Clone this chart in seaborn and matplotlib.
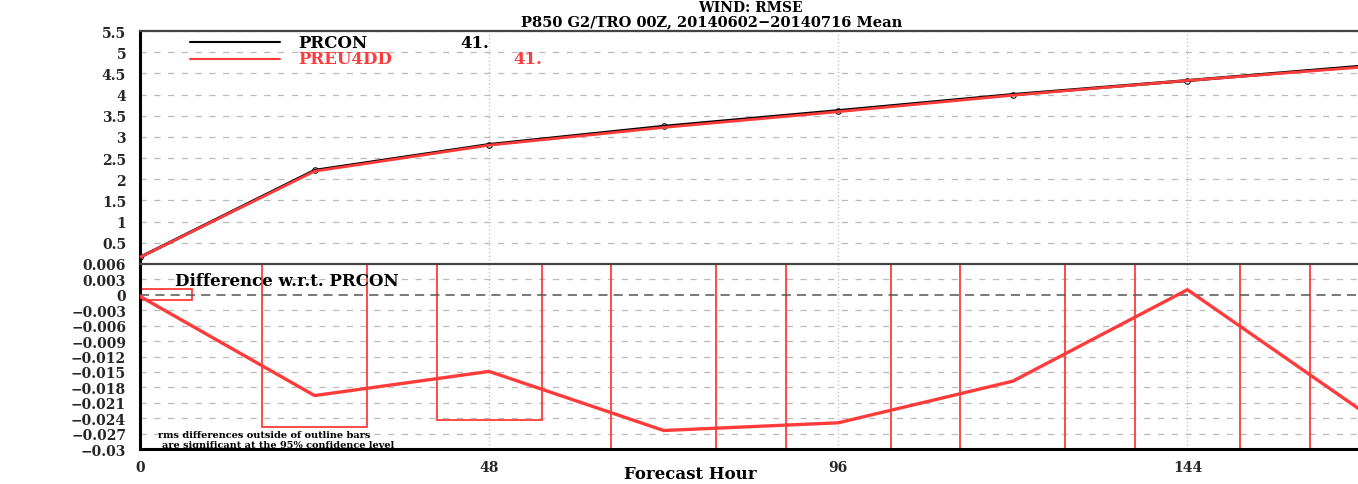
import numpy as np
import pandas as pd
import matplotlib
matplotlib.use("Agg")
import matplotlib.pyplot as plt
import seaborn as sns
from matplotlib.patches import Rectangle
from matplotlib.lines import Line2D
from matplotlib.ticker import FixedLocator, MultipleLocator

# ---------------- data ----------------
hours = [0, 24, 48, 72, 96, 120, 144, 168]
prcon = [0.16, 2.21, 2.82, 3.25, 3.62, 4.00, 4.33, 4.67]
diff = [-0.0003, -0.0196, -0.0149, -0.0264, -0.0249, -0.0168, 0.0010, -0.0226]
preu4dd = [p + d for p, d in zip(prcon, diff)]
ci_half = [0.0011, 0.0258, 0.0244, 0.034, 0.036, 0.038, 0.040, 0.042]
bar_halfwidth = 7.2

upper_ticks = [0, 0.5, 1, 1.5, 2, 2.5, 3, 3.5, 4, 4.5, 5, 5.5]
upper_labels = ["", "0.5", "1", "1.5", "2", "2.5", "3", "3.5", "4", "4.5", "5", "5.5"]
lower_ticks = [0.006, 0.003, 0, -0.003, -0.006, -0.009, -0.012, -0.015,
               -0.018, -0.021, -0.024, -0.027, -0.03]
lower_labels = ["0.006", "0.003", "0", "\u22120.003", "\u22120.006", "\u22120.009",
                "\u22120.012", "\u22120.015", "\u22120.018", "\u22120.021",
                "\u22120.024", "\u22120.027", "\u22120.03"]
x_ticks = [0, 48, 96, 144]
x_labels = ["0", "48", "96", "144"]

title1 = "WIND: RMSE"
title2 = "P850 G2/TRO 00Z, 20140602\u221220140716 Mean"
series_names = ["PRCON", "PREU4DD"]
series_counts = ["41.", "41."]

RED = "#ff3b3b"

df = pd.DataFrame({
    "hour": hours * 2,
    "rmse": prcon + preu4dd,
    "exp": [series_names[0]] * len(hours) + [series_names[1]] * len(hours),
})
df_diff = pd.DataFrame({"hour": hours, "diff": diff})

# ---------------- style ----------------
sns.set_style("white")
FONT = ["DejaVu Serif"]
plt.rcParams["font.family"] = FONT
plt.rcParams["font.weight"] = "bold"

W, H = 1358, 485
fig = plt.figure(figsize=(W / 100, H / 100), dpi=100)


def fx(x):
    return x / W


def fy(y):
    return 1 - y / H


left, right = 140, 1362
ax1 = fig.add_axes([fx(left), fy(265), fx(right - left), (265 - 32) / H])
ax2 = fig.add_axes([fx(left), fy(450), fx(right - left), (450 - 265) / H])

# ---------------- upper panel ----------------
sns.lineplot(data=df[df.exp == "PRCON"], x="hour", y="rmse", ax=ax1,
             color="black", lw=2.2, marker="o", markersize=4,
             markeredgecolor="black", markerfacecolor="none", legend=False, zorder=3)
sns.lineplot(data=df[df.exp == "PREU4DD"], x="hour", y="rmse", ax=ax1,
             color=RED, lw=2.0, legend=False, zorder=4)
ax1.set_xlim(0, 168)
ax1.set_ylim(0, 5.5)
ax1.yaxis.set_major_locator(FixedLocator(upper_ticks))
ax1.set_yticklabels(upper_labels)
ax1.yaxis.set_minor_locator(MultipleLocator(0.1))
ax1.set_xticks(x_ticks)
ax1.set_xticklabels([])
for yv in upper_ticks[1:]:
    ax1.axhline(yv, color="#bbbbbb", lw=0.9, ls=(0, (5, 6)), zorder=1)
for xv in x_ticks[1:]:
    ax1.axvline(xv, color="#bbbbbb", lw=0.9, ls=(0, (1, 2)), zorder=1)

# ---------------- lower panel ----------------
for h, c in zip(hours, ci_half):
    ax2.add_patch(Rectangle((h - bar_halfwidth, -c), 2 * bar_halfwidth, 2 * c,
                            fill=False, edgecolor=RED, lw=1.3, zorder=2))
sns.lineplot(data=df_diff, x="hour", y="diff", ax=ax2, color=RED, lw=2.4,
             legend=False, zorder=4)
ax2.set_xlim(0, 168)
ax2.set_ylim(-0.03, 0.006)
ax2.yaxis.set_major_locator(FixedLocator(lower_ticks))
ax2.set_yticklabels(lower_labels)
ax2.yaxis.set_minor_locator(MultipleLocator(0.001))
ax2.set_xticks(x_ticks)
ax2.set_xticklabels(x_labels)
ax2.xaxis.set_minor_locator(MultipleLocator(12))
for yv in lower_ticks[1:]:
    if yv == 0:
        ax2.axhline(0, color="#555555", lw=1.1, ls=(0, (6, 4)), zorder=3)
    else:
        ax2.axhline(yv, color="#bbbbbb", lw=0.9, ls=(0, (5, 6)), zorder=1)
for xv in x_ticks[1:]:
    ax2.axvline(xv, color="#bbbbbb", lw=0.9, ls=(0, (1, 2)), zorder=1)

for ax in (ax1, ax2):
    ax.set_xlabel("")
    ax.set_ylabel("")
    ax.spines["right"].set_visible(False)
    ax.spines["left"].set_color("black")
    ax.spines["left"].set_linewidth(2.2)
    ax.spines["bottom"].set_color("#333333")
    ax.spines["bottom"].set_linewidth(1.6)
    ax.spines["top"].set_color("#444444")
    ax.spines["top"].set_linewidth(1.6)
    ax.tick_params(axis="y", which="major", direction="out", length=7, width=1.5,
                   color="black", labelsize=10, pad=3)
    ax.tick_params(axis="y", which="minor", direction="inout", length=3, width=1.0,
                   color="black")
    ax.tick_params(axis="x", which="major", direction="out", length=6, width=1.5,
                   color="black", labelsize=10, pad=2)
    ax.tick_params(axis="x", which="minor", direction="out", length=3, width=1.0,
                   color="black")
    for lab in ax.get_yticklabels() + ax.get_xticklabels():
        lab.set_fontweight("bold")
    ax.set_facecolor("white")
ax2.spines["bottom"].set_color("black")
ax2.spines["bottom"].set_linewidth(2.2)
ax1.spines["bottom"].set_visible(False)

# ---------------- texts ----------------
fig.text(fx(750), fy(8), title1, ha="center", va="center", fontsize=10,
         fontweight="bold", color="black")
fig.text(fx(712), fy(22), title2, ha="center", va="center", fontsize=10.5,
         fontweight="bold", color="black")

fig.add_artist(Line2D([fx(190), fx(280)], [fy(43), fy(43)], color="black", lw=1.5))
fig.add_artist(Line2D([fx(190), fx(280)], [fy(60), fy(60)], color=RED, lw=1.5))
fig.text(fx(298), fy(43), series_names[0], ha="left", va="center", fontsize=12,
         fontweight="bold", color="black")
fig.text(fx(460), fy(43), series_counts[0], ha="left", va="center", fontsize=12,
         fontweight="bold", color="black")
fig.text(fx(298), fy(60), series_names[1], ha="left", va="center", fontsize=12,
         fontweight="bold", color=RED)
fig.text(fx(513), fy(60), series_counts[1], ha="left", va="center", fontsize=12,
         fontweight="bold", color=RED)

fig.text(fx(175), fy(281), "Difference w.r.t. PRCON", ha="left", va="center",
         fontsize=12, fontweight="bold", color="black")
fig.text(fx(158), fy(436), "rms differences outside of outline bars", ha="left",
         va="center", fontsize=7, color="black")
fig.text(fx(162), fy(446), "are significant at the 95% confidence level", ha="left",
         va="center", fontsize=7, color="black")
fig.text(fx(690), fy(475), "Forecast Hour", ha="center", va="center", fontsize=12,
         fontweight="bold", color="black")

fig.savefig("out.png", dpi=100, facecolor="white")
